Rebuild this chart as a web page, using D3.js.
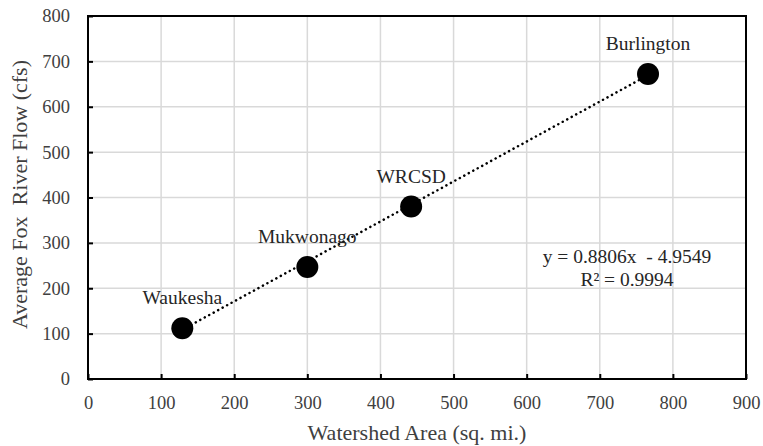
<!DOCTYPE html>
<html>
<head>
<meta charset="utf-8">
<script src="https://cdn.jsdelivr.net/npm/d3@7"></script>
<style>
  body { margin: 0; background: #fff; }
  svg text { font-family: "Liberation Serif", "Times New Roman", serif; }
</style>
</head>
<body>
<div id="chart"></div>
<script>
var svgWidth = 763;
var svgHeight = 446;

var margin = { top: 16, right: 17, bottom: 67, left: 88 };
var width = svgWidth - margin.left - margin.right;
var height = svgHeight - margin.top - margin.bottom;

var serif = "'Liberation Serif', 'Times New Roman', serif";

// Data
var sites = ["Waukesha", "Mukwonago", "WRCSD", "Burlington"];
var areas = [129, 300, 442, 766];
var flows = [112, 247, 380, 672];
var xTicks = [0, 100, 200, 300, 400, 500, 600, 700, 800, 900];
var yTicks = [0, 100, 200, 300, 400, 500, 600, 700, 800];
var slope = 0.8806;
var intercept = -4.9549;
var eqLines = ["y = 0.8806x  - 4.9549", "R² = 0.9994"];

var svg = d3.select("#chart")
  .append("svg")
  .attr("width", svgWidth)
  .attr("height", svgHeight);

var chartGroup = svg.append("g")
  .attr("transform", `translate(${margin.left}, ${margin.top})`);

var x = d3.scaleLinear().domain([0, 900]).range([0, width]);
var y = d3.scaleLinear().domain([0, 800]).range([height, 0]);

// Gridlines
chartGroup.append("g")
  .selectAll("line")
  .data(xTicks.slice(1, -1))
  .enter().append("line")
  .attr("x1", d => x(d)).attr("x2", d => x(d))
  .attr("y1", 0).attr("y2", height)
  .attr("stroke", "#d9d9d9").attr("stroke-width", 1.5);

chartGroup.append("g")
  .selectAll("line")
  .data(yTicks.slice(1, -1))
  .enter().append("line")
  .attr("y1", d => y(d)).attr("y2", d => y(d))
  .attr("x1", 0).attr("x2", width)
  .attr("stroke", "#d9d9d9").attr("stroke-width", 1.5);

// Axes with inward ticks
var bottomAxis = d3.axisBottom(x).tickValues(xTicks).tickSizeInner(-5).tickSizeOuter(0).tickPadding(17);
var leftAxis = d3.axisLeft(y).tickValues(yTicks).tickSizeInner(-5).tickSizeOuter(0).tickPadding(18);

var xAxisG = chartGroup.append("g")
  .attr("transform", `translate(0, ${height})`)
  .call(bottomAxis);

var yAxisG = chartGroup.append("g")
  .call(leftAxis);

[xAxisG, yAxisG].forEach(function(g) {
  g.attr("font-family", serif).attr("font-size", 18.5);
  g.select(".domain").remove();
  g.selectAll(".tick line").attr("stroke", "#000").attr("stroke-width", 2);
  g.selectAll(".tick text").attr("fill", "#404040");
});

// Frame
chartGroup.append("rect")
  .attr("x", 0).attr("y", 0)
  .attr("width", width).attr("height", height)
  .attr("fill", "none")
  .attr("stroke", "#000")
  .attr("stroke-width", 2);

// Linear trendline (dotted)
var xMin = d3.min(areas), xMax = d3.max(areas);
chartGroup.append("line")
  .attr("x1", x(xMin)).attr("y1", y(slope * xMin + intercept))
  .attr("x2", x(xMax)).attr("y2", y(slope * xMax + intercept))
  .attr("stroke", "#000")
  .attr("stroke-width", 2.5)
  .attr("stroke-linecap", "round")
  .attr("stroke-dasharray", "0.1 5");

// Points
var points = sites.map((s, i) => ({ name: s, area: areas[i], flow: flows[i] }));

chartGroup.selectAll("circle.pt")
  .data(points)
  .enter().append("circle")
  .attr("class", "pt")
  .attr("cx", d => x(d.area))
  .attr("cy", d => y(d.flow))
  .attr("r", 11)
  .attr("fill", "#000");

chartGroup.selectAll("text.lbl")
  .data(points)
  .enter().append("text")
  .attr("class", "lbl")
  .attr("x", d => x(d.area))
  .attr("y", d => y(d.flow) - 24)
  .attr("text-anchor", "middle")
  .attr("fill", "#262626")
  .attr("font-family", serif)
  .attr("font-size", 19.5)
  .text(d => d.name);

// Trendline equation
chartGroup.selectAll("text.eq")
  .data(eqLines)
  .enter().append("text")
  .attr("class", "eq")
  .attr("x", 539)
  .attr("y", (d, i) => 247 + i * 22.7)
  .attr("text-anchor", "middle")
  .attr("fill", "#262626")
  .attr("font-family", serif)
  .attr("font-size", 19.5)
  .style("white-space", "pre")
  .text(d => d);

// Axis labels
chartGroup.append("text")
  .attr("transform", "rotate(-90)")
  .attr("x", -178.5)
  .attr("y", -margin.left + 27)
  .attr("text-anchor", "middle")
  .attr("fill", "#404040")
  .attr("font-family", serif)
  .attr("font-size", 22)
  .style("white-space", "pre")
  .text("Average Fox  River Flow (cfs)");

chartGroup.append("text")
  .attr("x", width / 2)
  .attr("y", height + 61)
  .attr("text-anchor", "middle")
  .attr("fill", "#404040")
  .attr("font-family", serif)
  .attr("font-size", 22)
  .text("Watershed Area (sq. mi.)");
</script>
</body>
</html>
